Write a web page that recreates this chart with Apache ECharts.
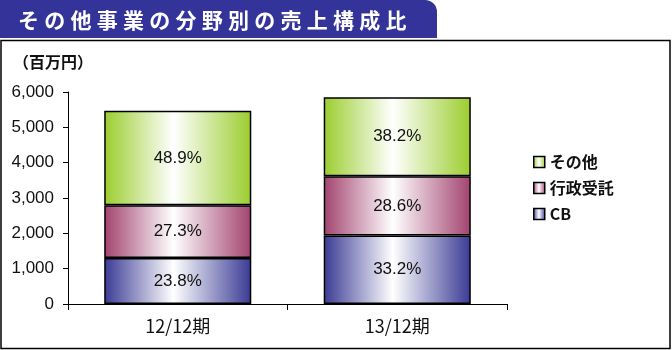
<!DOCTYPE html>
<html><head><meta charset="utf-8">
<script src="https://cdn.jsdelivr.net/npm/echarts@6/dist/echarts.min.js"></script>
<style>html,body{margin:0;padding:0;background:#fff}#c{width:672px;height:350px}</style>
</head><body><div id="c"></div>
<script>
const titleText = 'その他事業の分野別の売上構成比';
const unitText = '（百万円）';
const categories = ['12/12期', '13/12期'];
const seriesNames = ['CB', '行政受託', 'その他'];
const cbValues = [1302, 1942];
const govValues = [1493, 1673];
const otherValues = [2675, 2235];
const cbPct = ['23.8%', '33.2%'];
const govPct = ['27.3%', '28.6%'];
const otherPct = ['48.9%', '38.2%'];
const yMin = 0, yMax = 6000, yStep = 1000;

const chart = echarts.init(document.getElementById('c'), null, {renderer: 'canvas'});
function grad(edge) {
  return new echarts.graphic.LinearGradient(0, 0, 1, 0, [
    {offset: 0, color: edge},
    {offset: 0.47, color: '#ffffff'},
    {offset: 1, color: edge}
  ]);
}
const edges = ['#3a3a95', '#a2436f', '#9bcd2e'];
const valueSets = [cbValues, govValues, otherValues];
const pctSets = [cbPct, govPct, otherPct];
const spaced = titleText.split('').join('\u2005');

const series = seriesNames.map((name, i) => ({
  name: name,
  type: 'bar',
  stack: 'total',
  barWidth: '67%',
  data: valueSets[i],
  itemStyle: {color: grad(edges[i]), borderColor: '#000', borderWidth: 1.5},
  label: {
    show: true, position: 'inside',
    formatter: p => pctSets[i][p.dataIndex],
    color: '#111', fontSize: 17, fontFamily: 'Liberation Sans'
  },
  emphasis: {disabled: true}
}));

chart.setOption({
  animation: false,
  backgroundColor: '#fff',
  grid: {left: 68, right: 165, top: 92, bottom: 46, containLabel: false},
  legend: {
    orient: 'vertical', left: 528, top: 148,
    data: ['その他', '行政受託', 'CB'],
    icon: 'rect', itemWidth: 11, itemHeight: 11, itemGap: 8,
    itemStyle: {borderColor: '#000', borderWidth: 1.5},
    textStyle: {fontSize: 16, fontFamily: 'Noto Sans CJK JP', fontWeight: 'bold', color: '#111', lineHeight: 18},
    selectedMode: false
  },
  xAxis: {
    type: 'category', data: categories,
    axisLine: {lineStyle: {color: '#000', width: 1}},
    axisTick: {show: true, length: 6, lineStyle: {color: '#000'}},
    axisLabel: {fontSize: 18, fontFamily: 'Noto Sans CJK JP', color: '#111', margin: 13}
  },
  yAxis: {
    type: 'value', min: yMin, max: yMax, interval: yStep,
    splitLine: {show: false},
    axisLine: {show: true, lineStyle: {color: '#000', width: 1}},
    axisTick: {show: true, length: 5, lineStyle: {color: '#000'}},
    axisLabel: {fontSize: 17, fontFamily: 'Liberation Sans', color: '#111', margin: 14,
      formatter: v => v.toLocaleString('en-US')}
  },
  graphic: [
    {type: 'rect', shape: {x: 1, y: 40.5, width: 669, height: 308}, style: {fill: 'none', stroke: '#000', lineWidth: 1.5}, z: 0, silent: true},
    {type: 'rect', shape: {x: 0, y: 0, width: 437, height: 38, r: [0, 12, 0, 0]}, style: {fill: '#33339a'}, silent: true},
    {type: 'text', x: 18, y: 20, style: {text: spaced, fill: '#fff', font: 'bold 21px "Noto Sans CJK JP"', verticalAlign: 'middle'}, silent: true},
    {type: 'text', x: 13, y: 62, style: {text: unitText, fill: '#111', font: 'bold 16px "Noto Sans CJK JP"', verticalAlign: 'middle'}, silent: true}
  ],
  series: series
});
</script></body></html>
